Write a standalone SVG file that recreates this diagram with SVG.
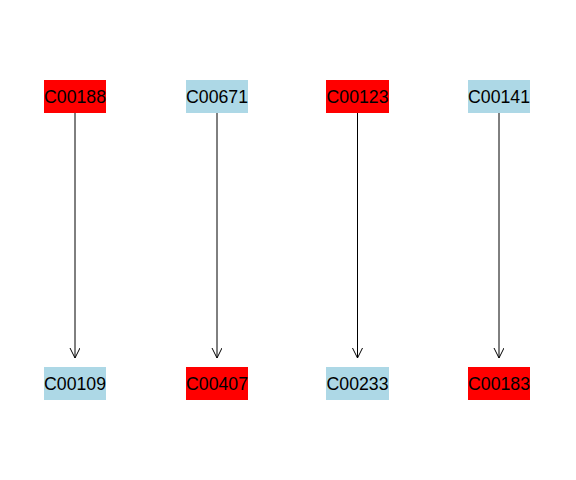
<svg xmlns="http://www.w3.org/2000/svg" width="576" height="480" viewBox="0 0 576 480">
  <style>
    .red { fill: #ff0000; }
    .blue { fill: #add8e6; }
    text { font-family: "Liberation Sans", Arial, sans-serif; font-size: 17.7px; fill: #000; text-anchor: middle; }
    .edge { stroke: #000; stroke-width: 1; fill: none; }
  </style>
  <defs>
    <marker id="arrow" markerWidth="12" markerHeight="12" refX="10" refY="5" orient="auto" markerUnits="userSpaceOnUse">
      <path d="M0,0 L10,5 L0,10" fill="none" stroke="#000" stroke-width="1"/>
    </marker>
  </defs>
  <rect width="576" height="480" fill="#fff"/>
  <g id="edges">
    <line class="edge" x1="75" y1="113" x2="75" y2="358" marker-end="url(#arrow)"/>
    <line class="edge" x1="217" y1="113" x2="217" y2="358" marker-end="url(#arrow)"/>
    <line class="edge" x1="357.5" y1="113" x2="357.5" y2="358" marker-end="url(#arrow)"/>
    <line class="edge" x1="499" y1="113" x2="499" y2="358" marker-end="url(#arrow)"/>
  </g>
  <g id="C00188"><rect class="red" x="44" y="80" width="62" height="33"/><text x="75" y="103">C00188</text></g>
  <g id="C00671"><rect class="blue" x="186" y="80" width="62" height="33"/><text x="217" y="103">C00671</text></g>
  <g id="C00123"><rect class="red" x="326" y="80" width="63" height="33"/><text x="357.5" y="103">C00123</text></g>
  <g id="C00141"><rect class="blue" x="468" y="80" width="62" height="33"/><text x="499" y="103">C00141</text></g>
  <g id="C00109"><rect class="blue" x="44" y="367" width="62" height="33"/><text x="75" y="390">C00109</text></g>
  <g id="C00407"><rect class="red" x="186" y="367" width="62" height="33"/><text x="217" y="390">C00407</text></g>
  <g id="C00233"><rect class="blue" x="326" y="367" width="63" height="33"/><text x="357.5" y="390">C00233</text></g>
  <g id="C00183"><rect class="red" x="468" y="367" width="62" height="33"/><text x="499" y="390">C00183</text></g>
</svg>
